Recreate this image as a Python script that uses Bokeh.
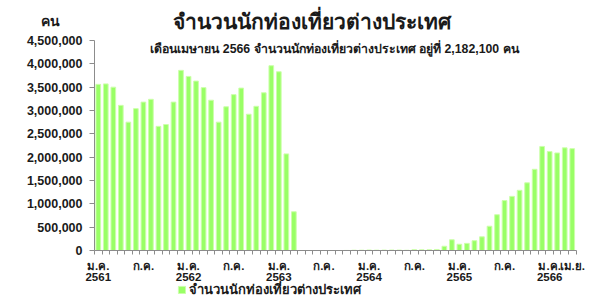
from bokeh.plotting import figure
from bokeh.models import (ColumnDataSource, Range1d, FixedTicker, NumeralTickFormatter,
                          Label, Legend, LegendItem, CDSView, BooleanFilter)
from bokeh.embed import file_html
from bokeh.resources import INLINE

# ---- data ----
month_abbr = ["ม.ค.", "ก.พ.", "มี.ค.", "เม.ย.", "พ.ค.", "มิ.ย.",
              "ก.ค.", "ส.ค.", "ก.ย.", "ต.ค.", "พ.ย.", "ธ.ค."]
years = ["2561", "2562", "2563", "2564", "2565", "2566"]

v2561 = [3560000, 3570000, 3500000, 3110000, 2750000, 3040000,
         3180000, 3240000, 2660000, 2700000, 3180000, 3860000]
v2562 = [3730000, 3630000, 3490000, 3220000, 2750000, 3080000,
         3340000, 3480000, 2920000, 3090000, 3380000, 3960000]
v2563 = [3830000, 2070000, 830000, 0, 0, 0,
         0, 0, 0, 1200, 6000, 6600]
v2564 = [10700, 7000, 8100, 9900, 9000, 4700,
         18100, 14100, 16000, 22000, 91000, 230000]
v2565 = [134000, 153000, 210000, 293000, 520000, 767000,
         1070000, 1160000, 1290000, 1450000, 1740000, 2230000]
v2566 = [2120000, 2090000, 2200000, 2182100]

values = v2561 + v2562 + v2563 + v2564 + v2565 + v2566
labels = [f"{month_abbr[i % 12]} {years[i // 12]}" for i in range(len(values))]
idx = list(range(len(values)))

y_ticks = [0, 500000, 1000000, 1500000, 2000000, 2500000, 3000000, 3500000, 4000000, 4500000]
y_max = 4500000

title_text = "จำนวนนักท่องเที่ยวต่างประเทศ"
subtitle_text = "เดือนเมษายน 2566 จำนวนนักท่องเที่ยวต่างประเทศ อยู่ที่ 2,182,100 คน"
unit_text = "คน"
series_name = "จำนวนนักท่องเที่ยวต่างประเทศ"

# ---- layout constants (pixels) ----
W, H = 592, 296
LEFT, RIGHT, TOP, BOTTOM = 94, 575.5, 40, 250   # plot area inside the canvas

FONT = "Liberation Sans"
TXT = "#1a1a1a"
AX = "#8c8c8c"

n = len(values)
unit = (RIGHT - LEFT) / n
ypx = (BOTTOM - TOP) / y_max
x_range = Range1d(-0.5 - LEFT / unit, -0.5 + (W - LEFT) / unit)
y_range = Range1d(-(H - BOTTOM) / ypx, BOTTOM / ypx)

src = ColumnDataSource(dict(x=idx, v=values, label=labels))
view = CDSView(filter=BooleanFilter([v > 0 for v in values]))

p = figure(width=W, height=H, output_backend="svg", toolbar_location=None, title=None,
           x_range=x_range, y_range=y_range,
           min_border_left=0, min_border_right=0, min_border_top=0, min_border_bottom=0)
p.outline_line_color = None
p.xgrid.grid_line_color = None
p.ygrid.grid_line_color = None
p.background_fill_color = "white"
p.border_fill_color = "white"

r = p.vbar(x="x", top="v", width=0.62, source=src, view=view,
           fill_color="#99ff66", line_color="#ccffaa", line_width=1)

# x axis: labels every 6 months + last month
xt = [i for i in idx if i % 6 == 0] + [idx[-1]]
over = {}
for i in xt:
    m = month_abbr[i % 12]
    over[i] = f"{m}\n{years[i // 12]}" if i % 12 == 0 else m
p.xaxis.fixed_location = 0
p.xaxis.bounds = (-0.5, n - 0.5)
p.xaxis.ticker = FixedTicker(ticks=xt, minor_ticks=[i - 0.5 for i in idx] + [n - 0.5])
p.xaxis.major_label_overrides = over
p.xaxis.major_tick_line_color = None
p.xaxis.major_tick_out = 4
p.xaxis.major_tick_in = 0
p.xaxis.minor_tick_out = 4
p.xaxis.minor_tick_in = 0
p.xaxis.minor_tick_line_color = AX
p.xaxis.axis_line_color = AX
p.xaxis.major_label_standoff = 5
p.xaxis.major_label_text_font = FONT
p.xaxis.major_label_text_font_style = "bold"
p.xaxis.major_label_text_font_size = "11.5px"
p.xaxis.major_label_text_line_height = 0.97
p.xaxis.major_label_text_color = TXT

p.yaxis.fixed_location = -0.5
p.yaxis.bounds = (0, y_max)
p.yaxis.ticker = FixedTicker(ticks=y_ticks)
p.yaxis.formatter = NumeralTickFormatter(format="0,0")
p.yaxis.minor_tick_line_color = None
p.yaxis.major_tick_out = 5
p.yaxis.major_tick_in = 0
p.yaxis.major_tick_line_color = AX
p.yaxis.axis_line_color = AX
p.yaxis.major_label_standoff = 7
p.yaxis.major_label_text_font = FONT
p.yaxis.major_label_text_font_style = "bold"
p.yaxis.major_label_text_font_size = "12.5px"
p.yaxis.major_label_text_color = TXT

# texts (screen units: from left and from bottom of the plot area = canvas)
p.add_layout(Label(x=311, y=H - 21, x_units="screen", y_units="screen", text=title_text,
                   text_align="center", text_baseline="middle", text_font=FONT,
                   text_font_style="bold", text_font_size="21px", text_color=TXT))
p.add_layout(Label(x=50, y=H - 20, x_units="screen", y_units="screen", text=unit_text,
                   text_align="center", text_baseline="middle", text_font=FONT,
                   text_font_style="bold", text_font_size="14px", text_color=TXT))
p.add_layout(Label(x=334, y=H - 48, x_units="screen", y_units="screen", text=subtitle_text,
                   text_align="center", text_baseline="middle", text_font=FONT,
                   text_font_style="bold", text_font_size="12.3px", text_color=TXT))

legend = Legend(items=[LegendItem(label=series_name, renderers=[r])],
                location=(177, -4), padding=0, margin=0, spacing=0,
                glyph_width=9, glyph_height=9, label_standoff=3,
                border_line_color=None, background_fill_alpha=0,
                label_text_font=FONT, label_text_font_style="bold",
                label_text_font_size="13px", label_text_color=TXT,
                label_height=12)
p.add_layout(legend, "center")

open("out.html", "w").write(file_html(p, INLINE))
